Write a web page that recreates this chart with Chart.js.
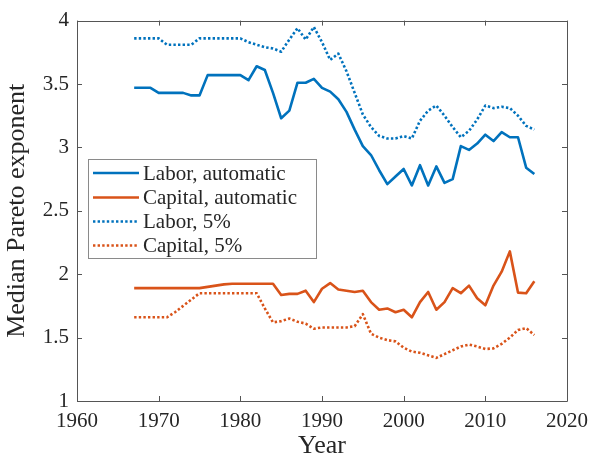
<!DOCTYPE html>
<html>
<head>
<meta charset="utf-8">
<script src="https://cdn.jsdelivr.net/npm/chart.js@4.4.1/dist/chart.umd.min.js"></script>
<style>
  html, body { margin: 0; padding: 0; background: #ffffff; }
  #c { display: block; }
</style>
</head>
<body>
<canvas id="c" width="596" height="459"></canvas>
<script>
// ---- data ----
const years = [1967,1968,1969,1970,1971,1972,1973,1974,1975,1976,
               1977,1978,1979,1980,1981,1982,1983,1984,1985,1986,
               1987,1988,1989,1990,1991,1992,1993,1994,1995,1996,
               1997,1998,1999,2000,2001,2002,2003,2004,2005,2006,
               2007,2008,2009,2010,2011,2012,2013,2014,2015,2016];
const laborAutomatic = [3.47,3.47,3.47,3.43,3.43,3.43,3.43,3.41,3.41,3.57,
                        3.57,3.57,3.57,3.57,3.53,3.64,3.61,3.43,3.23,3.29,
                        3.51,3.51,3.54,3.47,3.44,3.38,3.28,3.14,3.01,2.94,
                        2.82,2.71,2.77,2.83,2.70,2.86,2.70,2.85,2.72,2.75,
                        3.01,2.98,3.03,3.10,3.05,3.12,3.08,3.08,2.84,2.79];
const capitalAutomatic = [1.89,1.89,1.89,1.89,1.89,1.89,1.89,1.89,1.89,1.90,
                          1.91,1.92,1.925,1.925,1.925,1.925,1.925,1.925,1.836,1.845,
                          1.845,1.87,1.78,1.885,1.93,1.88,1.87,1.86,1.87,1.78,
                          1.72,1.73,1.70,1.72,1.66,1.78,1.86,1.72,1.78,1.89,
                          1.85,1.91,1.81,1.755,1.91,2.02,2.18,1.855,1.85,1.945];
const labor5 = [3.86,3.86,3.86,3.86,3.81,3.81,3.81,3.81,3.86,3.86,
                3.86,3.86,3.86,3.86,3.83,3.81,3.79,3.78,3.755,3.85,
                3.94,3.85,3.95,3.83,3.69,3.74,3.60,3.43,3.26,3.16,
                3.09,3.07,3.07,3.09,3.07,3.21,3.29,3.33,3.25,3.16,
                3.08,3.13,3.22,3.33,3.31,3.32,3.31,3.25,3.17,3.14];
const capital5 = [1.66,1.66,1.66,1.66,1.66,1.70,1.75,1.80,1.85,1.85,
                  1.85,1.85,1.85,1.85,1.85,1.85,1.73,1.62,1.63,1.65,
                  1.625,1.61,1.57,1.58,1.58,1.58,1.58,1.59,1.685,1.53,
                  1.50,1.48,1.47,1.42,1.39,1.38,1.36,1.34,1.37,1.40,
                  1.43,1.445,1.43,1.41,1.415,1.45,1.50,1.56,1.575,1.52];
const seriesLabels = ['Labor, automatic', 'Capital, automatic', 'Labor, 5%', 'Capital, 5%'];
const xTickValues = [1960,1970,1980,1990,2000,2010,2020];
const yTickValues = [1,1.5,2,2.5,3,3.5,4];
const xTitle = 'Year';
const yTitle = 'Median Pareto exponent';

// ---- styling ----
const BLUE = '#0072BD';
const ORANGE = '#D95319';
const TEXT = '#262626';
const AXIS = '#555555';
const FONT = "'Liberation Serif', 'Times New Roman', serif";

function pts(vals) { return years.map((y, i) => ({x: y, y: vals[i]})); }

const seriesValues = [laborAutomatic, capitalAutomatic, labor5, capital5];
const seriesColors = [BLUE, ORANGE, BLUE, ORANGE];
const seriesDotted = [false, false, true, true];

const datasets = seriesValues.map((vals, i) => ({
  label: seriesLabels[i],
  data: pts(vals),
  borderColor: seriesColors[i],
  backgroundColor: seriesColors[i],
  borderWidth: 2.6,
  borderDash: seriesDotted[i] ? [2.4, 2.2] : [],
  borderCapStyle: 'butt',
  borderJoinStyle: 'round',
  pointRadius: 0,
  tension: 0,
  fill: false,
  order: 4 - i
}));

// box, inward ticks, and legend inside the axes
const axesPlugin = {
  id: 'axesBox',
  afterDatasetsDraw(chart) {
    const ctx = chart.ctx;
    const a = chart.chartArea;
    const xs = chart.scales.x, ys = chart.scales.y;
    ctx.save();
    ctx.strokeStyle = AXIS;
    ctx.lineWidth = 1;
    ctx.beginPath();
    ctx.rect(Math.round(a.left) + 0.5, Math.round(a.top) + 0.5,
             Math.round(a.right - a.left), Math.round(a.bottom - a.top));
    ctx.stroke();
    const TL = 5;
    ctx.beginPath();
    xTickValues.forEach(v => {
      const px = Math.round(xs.getPixelForValue(v)) + 0.5;
      ctx.moveTo(px, a.bottom); ctx.lineTo(px, a.bottom - TL);
      ctx.moveTo(px, a.top); ctx.lineTo(px, a.top + TL);
    });
    yTickValues.forEach(v => {
      const py = Math.round(ys.getPixelForValue(v)) + 0.5;
      ctx.moveTo(a.left, py); ctx.lineTo(a.left + TL, py);
      ctx.moveTo(a.right, py); ctx.lineTo(a.right - TL, py);
    });
    ctx.stroke();

    // legend
    const L = 88.5, T = 159.5, R = 316.5, B = 258.5;
    ctx.fillStyle = '#ffffff';
    ctx.fillRect(L, T, R - L, B - T);
    ctx.strokeStyle = '#8a8a8a';
    ctx.lineWidth = 1;
    ctx.strokeRect(L, T, R - L, B - T);
    const rowY = [173, 197.5, 221.5, 245.5];
    ctx.font = '21px ' + FONT;
    ctx.textBaseline = 'middle';
    ctx.textAlign = 'left';
    chart.data.datasets.forEach((ds, i) => {
      ctx.strokeStyle = ds.borderColor;
      ctx.lineWidth = ds.borderWidth;
      ctx.lineCap = 'butt';
      ctx.setLineDash(ds.borderDash || []);
      ctx.beginPath();
      ctx.moveTo(93, rowY[i]);
      ctx.lineTo(139, rowY[i]);
      ctx.stroke();
      ctx.setLineDash([]);
      ctx.fillStyle = TEXT;
      ctx.fillText(ds.label, 143, rowY[i] + 1);
    });
    ctx.restore();
  }
};

new Chart(document.getElementById('c'), {
  type: 'line',
  data: { datasets },
  options: {
    responsive: false,
    animation: false,
    devicePixelRatio: 1,
    layout: { padding: { top: 18, right: 23, left: 0, bottom: 0 } },
    plugins: { legend: { display: false }, tooltip: { enabled: false } },
    scales: {
      x: {
        type: 'linear',
        min: 1960, max: 2020,
        afterFit(scale) { scale.height = 58; },
        afterBuildTicks(scale) { scale.ticks = xTickValues.map(v => ({value: v})); },
        ticks: {
          color: TEXT,
          font: { family: FONT, size: 21 },
          padding: 8,
          maxRotation: 0,
          callback: v => String(v)
        },
        grid: { display: true, drawOnChartArea: false, drawTicks: false },
        border: { display: false },
        title: {
          display: true, text: xTitle, color: TEXT,
          font: { family: FONT, size: 26, lineHeight: 1.0 },
          padding: { top: 0, bottom: 0 }
        }
      },
      y: {
        type: 'linear',
        min: 1, max: 4,
        afterFit(scale) { scale.width = 77; },
        afterBuildTicks(scale) { scale.ticks = yTickValues.map(v => ({value: v})); },
        ticks: {
          color: TEXT,
          font: { family: FONT, size: 21 },
          padding: 8,
          callback: v => String(v)
        },
        grid: { display: true, drawOnChartArea: false, drawTicks: false },
        border: { display: false },
        title: {
          display: true, text: yTitle, color: TEXT,
          font: { family: FONT, size: 26 },
          padding: { top: 2, bottom: 0 }
        }
      }
    }
  },
  plugins: [axesPlugin]
});
</script>
</body>
</html>
